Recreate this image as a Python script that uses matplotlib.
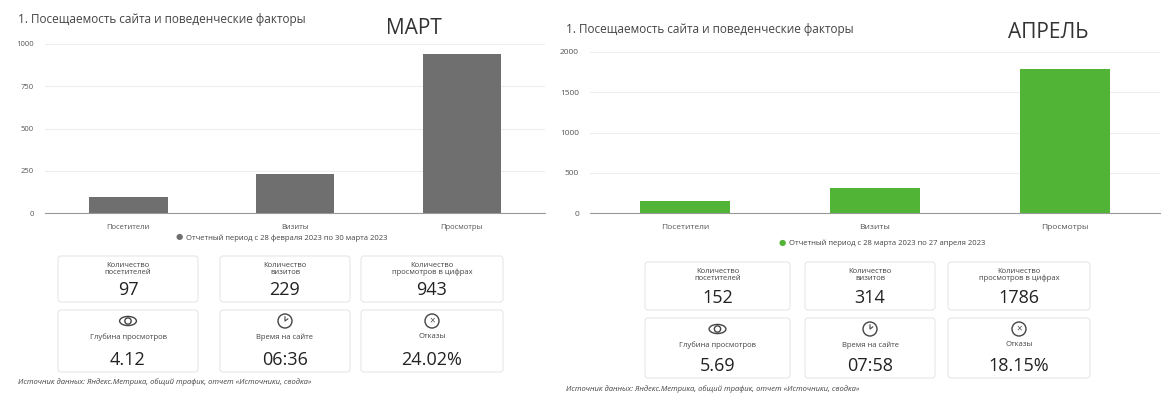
import matplotlib
matplotlib.use("Agg")
import matplotlib.pyplot as plt
from matplotlib.patches import FancyBboxPatch, Circle, Ellipse

plt.rcParams['font.family'] = ['Open Sans', 'DejaVu Sans']

categories = ["Посетители", "Визиты", "Просмотры"]
march_values = [97, 229, 943]
april_values = [152, 314, 1786]
march_ticks = [0, 250, 500, 750, 1000]
april_ticks = [0, 500, 1000, 1500, 2000]
card_titles = ["Количество\nпосетителей", "Количество\nвизитов", "Количество\nпросмотров в цифрах",
               "Глубина просмотров", "Время на сайте", "Отказы"]
march_cards = ["97", "229", "943", "4.12", "06:36", "24.02%"]
april_cards = ["152", "314", "1786", "5.69", "07:58", "18.15%"]
title = "1. Посещаемость сайта и поведенческие факторы"
source = "Источник данных: Яндекс.Метрика, общий трафик, отчет «Источники, сводка»"

W, H = 1168, 401
fig = plt.figure(figsize=(W / 100, H / 100), dpi=100)
fig.patch.set_facecolor("white")


def pax(x0, y0, x1, y1):
    # axes from pixel box (top-left origin)
    return fig.add_axes([x0 / W, 1 - y1 / H, (x1 - x0) / W, (y1 - y0) / H])


def bar_panel(box, values, ticks, color, fs):
    ax = pax(*box)
    ax.bar(categories, values, width=0.47, color=color, zorder=3)
    ax.set_ylim(0, ticks[-1])
    ax.set_xlim(-0.5, 2.5)
    ax.set_yticks(ticks)
    ax.grid(axis="y", color="#eeeeee", lw=0.8, zorder=0)
    for s in ["top", "right", "left"]:
        ax.spines[s].set_visible(False)
    ax.spines["bottom"].set_color("#999999")
    ax.tick_params(length=0, labelsize=fs, colors="#555555", pad=8)
    return ax


bar_panel((45, 44, 545, 213), march_values, march_ticks, "#6f6f6f", 5.5)
bar_panel((590, 52, 1160, 213), april_values, april_ticks, "#52b436", 6)

ov = fig.add_axes([0, 0, 1, 1])
ov.set_xlim(0, W)
ov.set_ylim(H, 0)
ov.axis("off")
ov.patch.set_alpha(0)


def icon(kind, cx, cy, r):
    c = "#444444"
    if kind == 3:
        ov.add_patch(Ellipse((cx, cy), 2.4 * r, 1.3 * r, fill=False, ec=c, lw=1))
        ov.add_patch(Circle((cx, cy), 0.45 * r, fill=False, ec=c, lw=1))
    elif kind == 4:
        ov.add_patch(Circle((cx, cy), r, fill=False, ec=c, lw=1))
        ov.plot([cx, cx, cx + 0.4 * r], [cy - 0.6 * r, cy, cy - 0.3 * r], color=c, lw=0.8)
    else:
        ov.add_patch(Circle((cx, cy), r, fill=False, ec=c, lw=1))
        ov.text(cx, cy, "×", ha="center", va="center", fontsize=7, color=c)


def dashboard(ox, label, xl, date_text, date_y, dot_color, cols, rows, cards, src_y, tfs, vfs):
    ov.text(ox + 18, 20 + (xl - 20), title, fontsize=8.5, color="#444444", va="center")
    ov.text(label[1], label[2], label[0], fontsize=15, color="#333333", ha="center", va="center")
    ov.text(date_text[0], date_y, "●", fontsize=6, color=dot_color, ha="right", va="center")
    ov.text(date_text[0] + 3, date_y, date_text[1], fontsize=5.5, color="#444444", va="center")
    for i in range(6):
        x0, x1 = cols[i % 3]
        y0, y1 = rows[i // 3]
        ov.add_patch(FancyBboxPatch((x0, y0), x1 - x0, y1 - y0, boxstyle="round,pad=0,rounding_size=3",
                                    fc="white", ec="#e6e6e6", lw=0.8))
        cx = (x0 + x1) / 2
        if i < 3:
            ov.text(cx, y0 + 13, card_titles[i], fontsize=tfs, color="#444444", ha="center",
                    va="center", linespacing=0.9)
        else:
            icon(i, cx, y0 + 11, 7)
            ov.text(cx, y0 + 27, card_titles[i], fontsize=tfs, color="#444444", ha="center", va="center")
        ov.text(cx, y1 - 12, cards[i], fontsize=vfs, color="#222222", ha="center", va="center")
    ov.text(ox + 18, src_y, source, fontsize=5.5, color="#444444", style="italic", va="center")


dashboard(0, ("МАРТ", 414, 28), 20, (183, "Отчетный период с 28 февраля 2023 по 30 марта 2023"), 238,
          "#6f6f6f", [(58, 198), (220, 350), (361, 503)], [(256, 302), (310, 372)],
          march_cards, 382, 5.5, 13)
dashboard(548, ("АПРЕЛЬ", 1048, 33), 29, (786, "Отчетный период с 28 марта 2023 по 27 апреля 2023"), 243,
          "#52b436", [(645, 790), (805, 935), (948, 1090)], [(262, 310), (318, 378)],
          april_cards, 389, 5.5, 13)

fig.savefig("out.png", dpi=100)
